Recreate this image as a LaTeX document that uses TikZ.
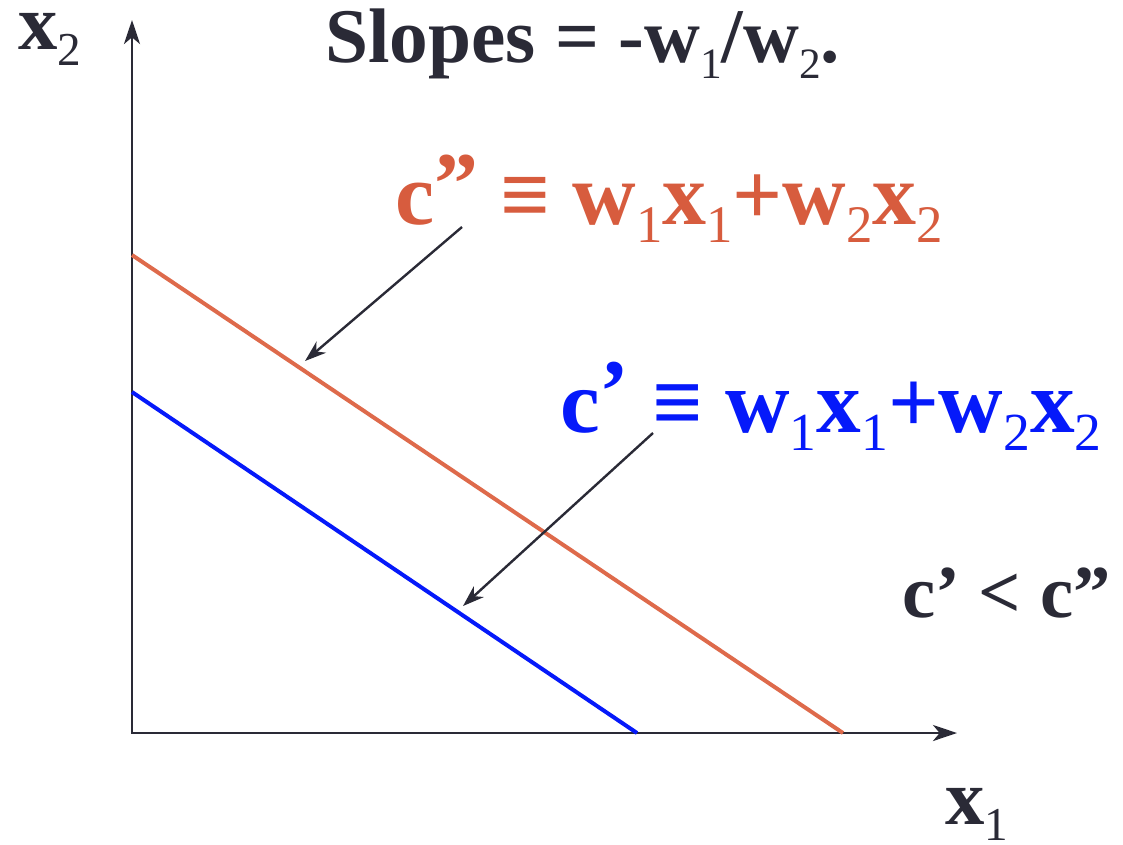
\documentclass[tikz,border=0pt]{standalone}
\usepackage{fontspec}
\setmainfont{Liberation Serif}
\usetikzlibrary{arrows.meta}
\definecolor{ink}{RGB}{42,42,54}
\definecolor{orng}{RGB}{215,92,62}
\definecolor{orngline}{RGB}{222,106,75}
\definecolor{blu}{RGB}{5,25,250}
\newcommand{\lsub}[1]{\raisebox{-0.21em}{\scalebox{0.6}{\mdseries #1}}}
\newcommand{\tsub}[1]{\raisebox{-0.21em}{\scalebox{0.56}{\mdseries #1}}}
\newcommand{\upq}[1]{\raisebox{0.12em}{#1}}
\begin{document}
\begin{tikzpicture}[x=0.75pt,y=-0.75pt,
  lbl/.style={anchor=base west,inner sep=0pt},
  axisline/.style={draw=ink,line width=2.2pt,{Stealth[length=18pt,width=12pt,inset=5pt]}-{Stealth[length=18pt,width=12pt,inset=5pt]}},
  ptr/.style={draw=ink,line width=1.8pt,-{Stealth[length=16pt,width=11pt,inset=5pt]}},
  budget/.style={line width=3pt},
  ]
\useasboundingbox (0,0) rectangle (1123,844);
\coordinate (O) at (132,733);
\coordinate (Ytip) at (132,20);
\coordinate (Xtip) at (957,733);
\coordinate (A1) at (132,255);
\coordinate (A2) at (843,733);
\coordinate (B1) at (132,392);
\coordinate (B2) at (637,733);
\coordinate (P1) at (462,227);
\coordinate (Q1) at (305,361);
\coordinate (P2) at (653,433);
\coordinate (Q2) at (463,606);
\draw[axisline] (Ytip) -- (O) -- (Xtip);
\draw[budget,draw=orngline] (A1) -- (A2);
\draw[budget,draw=blu] (B1) -- (B2);
\draw[ptr] (P1) -- (Q1);
\draw[ptr] (P2) -- (Q2);
\node[lbl,text=ink,font=\bfseries\fontsize{58}{60}\selectfont] (title) at (325,62) {Slopes = -w\tsub{1}/w\tsub{2}.};
\node[lbl,text=ink,font=\bfseries\fontsize{59}{60}\selectfont] (ylab) at (18,49) {x\lsub{2}};
\node[lbl,text=ink,font=\bfseries\fontsize{59}{60}\selectfont] (xlab) at (945,824) {x\lsub{1}};
\node[lbl,text=orng,font=\bfseries\fontsize{66}{70}\selectfont] (cpp) at (395,224) {c\upq{”} ≡ w\lsub{1}x\lsub{1}+w\lsub{2}x\lsub{2}};
\node[lbl,text=blu,font=\bfseries\fontsize{67}{70}\selectfont] (cp) at (560,432) {c\upq{’} ≡ w\lsub{1}x\lsub{1}+w\lsub{2}x\lsub{2}};
\node[lbl,text=ink,font=\bfseries\fontsize{56}{60}\selectfont] (cmp) at (902,617) {c’ < c”};
\end{tikzpicture}
\end{document}
